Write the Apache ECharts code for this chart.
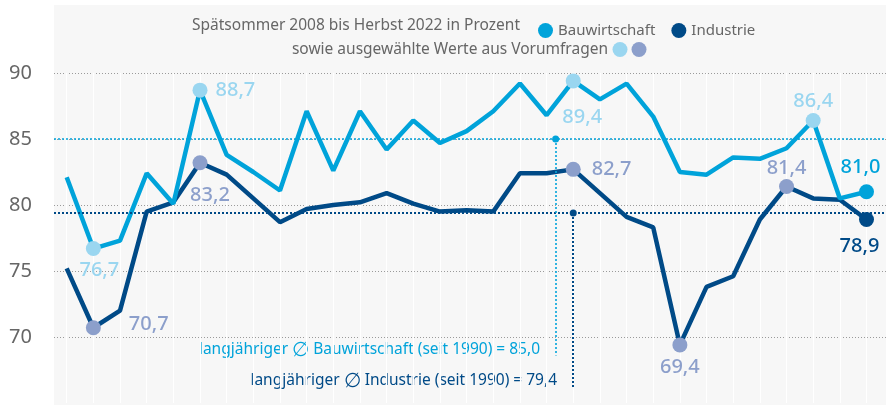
<!DOCTYPE html>
<html>
<head>
<meta charset="utf-8">
<script src="https://cdn.jsdelivr.net/npm/echarts@6/dist/echarts.min.js"></script>
<style>
html, body { margin: 0; padding: 0; background: #fff; }
#chart { width: 893px; height: 405px; }
</style>
</head>
<body>
<div id="chart"></div>
<script>
// Umfragewellen Spätsommer 2008 bis Herbst 2022 (ohne Beschriftung im Bild)
const wellen = ['1', '2', '3', '4', '5', '6', '7', '8', '9', '10', '11', '12', '13', '14', '15', '16',
  '17', '18', '19', '20', '21', '22', '23', '24', '25', '26', '27', '28', '29', '30', '31'];
const bauwirtschaft = [82.1, 76.7, 77.3, 82.4, 80.1, 88.7, 83.8, 82.5, 81.1, 87.1, 82.6, 87.1, 84.2, 86.4, 84.7, 85.6,
  87.1, 89.2, 86.8, 89.4, 88.0, 89.2, 86.7, 82.5, 82.3, 83.6, 83.5, 84.3, 86.4, 80.5, 81.0];
const industrie = [75.2, 70.7, 72.0, 79.5, 80.2, 83.2, 82.3, 80.5, 78.7, 79.7, 80.0, 80.2, 80.9, 80.1, 79.5, 79.6,
  79.5, 82.4, 82.4, 82.7, 80.9, 79.1, 78.3, 69.4, 73.8, 74.6, 78.9, 81.4, 80.5, 80.4, 78.9];
// ausgewählte Werte aus Vorumfragen (Index der Welle)
const bauVorumfragen = [1, 5, 19, 28];
const industrieVorumfragen = [1, 5, 19, 23, 27];
// langjährige Durchschnitte seit 1990
const schnittBau = 85.0;
const schnittIndustrie = 79.4;

const FONT = '"Noto Sans", sans-serif';
const BLAU = '#00a3da';
const NAVY = '#004a87';
const HELLBLAU = '#9ad6f0';
const GRAUBLAU = '#8c9fcb';
const TEXT = '#666666';

const komma = v => v.toFixed(1).replace('.', ',');

// Lage der Wertebeschriftungen
const lageBau = {
  1: { position: 'bottom', distance: 4, offset: [6, 0] },
  5: { position: 'right', distance: 8 },
  19: { position: 'bottom', distance: 19, offset: [9, 0] },
  28: { position: 'top', distance: 2 },
  30: { position: 'top', distance: 7, offset: [-6, 0] }
};
const lageIndustrie = {
  1: { position: 'right', distance: 28, offset: [0, -3] },
  5: { position: 'bottom', distance: 15, offset: [10, 0] },
  19: { position: 'right', distance: 11 },
  23: { position: 'bottom', distance: 5 },
  27: { position: 'top', distance: 1 },
  30: { position: 'bottom', distance: 9, offset: [-7, 0] }
};

function punkte(werte, vorumfragen, farbe, farbeVor, lagen) {
  return werte.map((v, i) => {
    const vor = vorumfragen.includes(i);
    const letzter = i === werte.length - 1;
    if (!vor && !letzter) return v;
    const c = vor ? farbeVor : farbe;
    return {
      value: v,
      symbol: 'circle',
      symbolSize: 15,
      itemStyle: { color: c },
      label: Object.assign({
        show: true, color: c, fontSize: 20, fontWeight: 500, fontFamily: FONT,
        formatter: komma(v)
      }, lagen[i])
    };
  });
}

function schnittText(x, y, name, wert, farbe) {
  return {
    type: 'text', x: x, y: y,
    style: {
      text: '{a|langjähriger }{s|∅}{a| ' + name + ' (seit 1990) = ' + komma(wert) + '}',
      textAlign: 'right', textVerticalAlign: 'middle',
      rich: {
        a: { fill: farbe, fontSize: 15.5, fontFamily: FONT },
        s: { fill: farbe, fontSize: 20, fontFamily: FONT }
      }
    }
  };
}

const chart = echarts.init(document.getElementById('chart'));
chart.setOption({
  animation: false,
  grid: [
    { left: 54, right: 7, top: 7, bottom: 2 },
    { left: 66.7, right: 26.5, top: 73, bottom: 2 }
  ],
  xAxis: [
    { gridIndex: 0, type: 'value', min: -0.4764, max: 30.731, show: false },
    {
      gridIndex: 1, type: 'category', data: wellen, boundaryGap: false,
      axisLine: { show: false }, axisTick: { show: false }, axisLabel: { show: false },
      splitLine: { show: true, lineStyle: { color: '#ffffff', width: 1.2 } }
    }
  ],
  yAxis: [
    {
      gridIndex: 0, type: 'value', min: 65, max: 95, interval: 5,
      axisLine: { show: false }, axisTick: { show: false },
      axisLabel: {
        color: TEXT, fontSize: 20, fontFamily: FONT, margin: 22,
        showMinLabel: false, showMaxLabel: false
      },
      splitLine: { showMinLine: false, showMaxLine: false, lineStyle: { color: '#9a9a9a', width: 1, type: [1, 2] } }
    },
    { gridIndex: 1, type: 'value', min: 65, max: 90, show: false }
  ],
  legend: {
    data: ['Bauwirtschaft', 'Industrie'],
    left: 533, top: 18, icon: 'circle', itemWidth: 15, itemHeight: 15, itemGap: 16,
    selectedMode: false,
    textStyle: { color: TEXT, fontSize: 15, fontFamily: FONT }
  },
  graphic: [
    { type: 'rect', z: -10, silent: true, shape: { x: 54, y: 5, width: 832, height: 400 }, style: { fill: '#f7f7f7' } },
    {
      type: 'text', x: 520, y: 26,
      style: { text: 'Spätsommer 2008 bis Herbst 2022 in Prozent', fill: TEXT, font: '15.5px ' + FONT, textAlign: 'right', textVerticalAlign: 'middle' }
    },
    {
      type: 'text', x: 608, y: 50,
      style: { text: 'sowie ausgewählte Werte aus Vorumfragen', fill: TEXT, font: '15.5px ' + FONT, textAlign: 'right', textVerticalAlign: 'middle' }
    },
    { type: 'circle', shape: { cx: 620, cy: 49.5, r: 7.5 }, style: { fill: HELLBLAU } },
    { type: 'circle', shape: { cx: 639, cy: 49.5, r: 7.5 }, style: { fill: GRAUBLAU } },
    schnittText(540, 350, 'Bauwirtschaft', schnittBau, BLAU),
    schnittText(557, 381, 'Industrie', schnittIndustrie, NAVY)
  ],
  series: [
    {
      name: 'Durchschnitt',
      type: 'line', xAxisIndex: 0, yAxisIndex: 0, data: [],
      markLine: {
        silent: true, symbol: ['none', 'none'], label: { show: false },
        data: [
          { yAxis: schnittBau, lineStyle: { color: BLAU, width: 1.6, type: [2, 2] } },
          { yAxis: schnittIndustrie, lineStyle: { color: NAVY, width: 2, type: [2, 2] } },
          [
            { coord: [18.34, schnittBau], symbol: 'circle', symbolSize: 7, itemStyle: { color: BLAU }, lineStyle: { color: BLAU, width: 1.6, type: [2, 2] } },
            { coord: [18.34, 68.6], symbol: 'none' }
          ],
          [
            { coord: [19, schnittIndustrie], symbol: 'circle', symbolSize: 7, itemStyle: { color: NAVY }, lineStyle: { color: NAVY, width: 2, type: [2, 2] } },
            { coord: [19, 66.2], symbol: 'none' }
          ]
        ]
      }
    },
    {
      name: 'Industrie',
      type: 'line', xAxisIndex: 1, yAxisIndex: 1,
      symbol: 'none', color: NAVY,
      lineStyle: { color: NAVY, width: 4.5 },
      data: punkte(industrie, industrieVorumfragen, NAVY, GRAUBLAU, lageIndustrie)
    },
    {
      name: 'Bauwirtschaft',
      type: 'line', xAxisIndex: 1, yAxisIndex: 1,
      symbol: 'none', color: BLAU,
      lineStyle: { color: BLAU, width: 4.5 },
      data: punkte(bauwirtschaft, bauVorumfragen, BLAU, HELLBLAU, lageBau)
    }
  ]
});
</script>
</body>
</html>
